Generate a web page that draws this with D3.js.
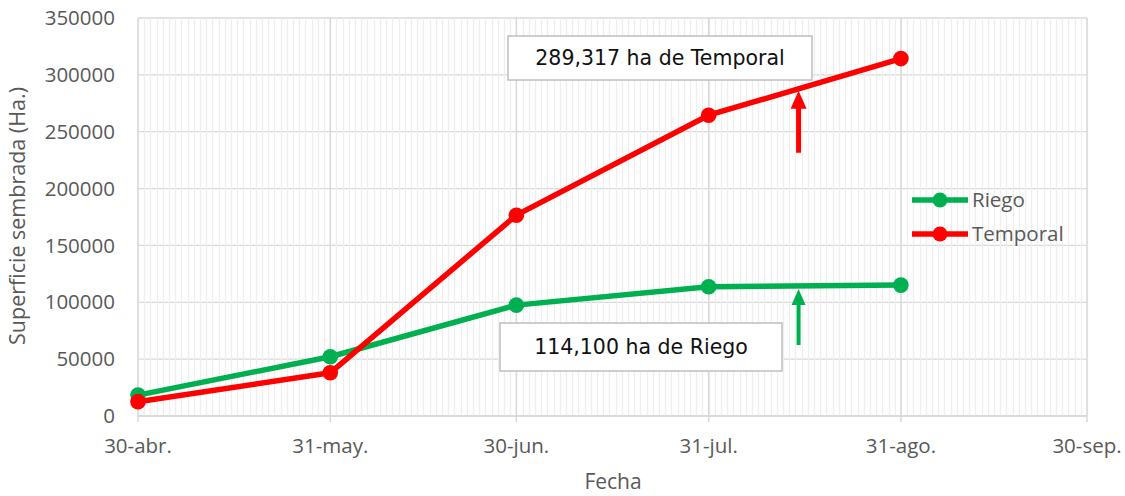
<!DOCTYPE html>
<html><head><meta charset="utf-8">
<script src="https://cdn.jsdelivr.net/npm/d3@7"></script>
<style>
html,body{margin:0;padding:0;background:#fff;}
svg{display:block;}
</style></head>
<body>
<svg id="chart" width="1125" height="496"></svg>
<script>
// ---- data ----
const dates = ["2021-04-30","2021-05-31","2021-06-30","2021-07-31","2021-08-31"];
const riego = [18400, 52100, 97500, 113600, 115100];
const temporal = [12600, 38000, 176600, 264500, 314300];
const seriesNames = ["Riego","Temporal"];
const tickDates = ["2021-04-30","2021-05-31","2021-06-30","2021-07-31","2021-08-31","2021-09-30"];
const tickLabels = ["30-abr.","31-may.","30-jun.","31-jul.","31-ago.","30-sep."];
const yTicks = [0,50000,100000,150000,200000,250000,300000,350000];
const annotTexts = ["289,317 ha de Temporal","114,100 ha de Riego"];
const arrowDate = "2021-08-14T12:00:00Z";
const arrowTemporal = [231500, 286000];  // tail, tip
const arrowRiego = [62400, 111700];

const parse = s => new Date(s.length>10 ? s : s+"T00:00:00Z");
const colors = {Riego:"#00b050", Temporal:"#ff0000"};

const svg = d3.select("#chart");
const L=138, R=1087, T=18, B=416;
const x = d3.scaleUtc().domain([parse(tickDates[0]), parse(tickDates[tickDates.length-1])]).range([L,R]);
const y = d3.scaleLinear().domain([0,350000]).range([B,T]);

const font = "'Open Sans', 'Noto Sans', sans-serif";

// horizontal gridlines
svg.append("g").selectAll("line").data(yTicks).join("line")
  .attr("x1",L).attr("x2",R).attr("y1",d=>y(d)).attr("y2",d=>y(d))
  .attr("stroke","#d9d9d9").attr("stroke-width",1.3);

// minor daily gridlines
const days = d3.utcDay.range(x.domain()[0], d3.utcDay.offset(x.domain()[1],1));
svg.append("g").selectAll("line").data(days).join("line")
  .attr("x1",d=>Math.round(x(d))+0.5).attr("x2",d=>Math.round(x(d))+0.5)
  .attr("y1",T).attr("y2",B)
  .attr("stroke","#eeeeee").attr("stroke-width",1.3);

// major vertical gridlines
svg.append("g").selectAll("line").data(tickDates.map(parse)).join("line")
  .attr("x1",d=>x(d)).attr("x2",d=>x(d)).attr("y1",T).attr("y2",B+6)
  .attr("stroke","#d9d9d9").attr("stroke-width",1.5);

// bottom axis line
svg.append("line").attr("x1",L).attr("x2",R).attr("y1",B).attr("y2",B)
  .attr("stroke","#d9d9d9").attr("stroke-width",1.5);

// y tick labels
svg.append("g").selectAll("text").data(yTicks).join("text")
  .attr("x",115).attr("y",d=>y(d)).attr("dy","0.35em")
  .attr("text-anchor","end").attr("font-family",font).attr("font-size",20.5)
  .attr("fill","#595959").text(d=>d);

// x tick labels
svg.append("g").selectAll("text").data(tickDates).join("text")
  .attr("x",d=>x(parse(d))).attr("y",453)
  .attr("text-anchor","middle").attr("font-family",font).attr("font-size",20.5)
  .attr("fill","#595959").text((d,i)=>tickLabels[i]);

// axis titles
svg.append("text").attr("x",613).attr("y",482).attr("dy","0.35em").attr("text-anchor","middle")
  .attr("font-family",font).attr("font-size",21).attr("fill","#595959").text("Fecha");
svg.append("text").attr("transform","translate(25,216) rotate(-90)").attr("text-anchor","middle")
  .attr("font-family",font).attr("font-size",21.5).attr("fill","#595959").text("Superficie sembrada (Ha.)");

// series
const line = d3.line().x(d=>x(d.date)).y(d=>y(d.v));
const seriesData = [riego, temporal].map((vals,i)=>({
  name: seriesNames[i],
  pts: vals.map((v,j)=>({date: parse(dates[j]), v}))
}));
seriesData.forEach(s=>{
  svg.append("path").datum(s.pts).attr("d",line).attr("fill","none")
    .attr("stroke",colors[s.name]).attr("stroke-width",5.5).attr("stroke-linejoin","round");
  svg.append("g").selectAll("circle").data(s.pts).join("circle")
    .attr("cx",d=>x(d.date)).attr("cy",d=>y(d.v)).attr("r",7.8).attr("fill",colors[s.name]);
});

// legend
seriesNames.forEach((n,i)=>{
  const ly = 200 + i*34;
  svg.append("line").attr("x1",912).attr("x2",968).attr("y1",ly).attr("y2",ly)
    .attr("stroke",colors[n]).attr("stroke-width",5.5);
  svg.append("circle").attr("cx",940).attr("cy",ly).attr("r",7.5).attr("fill",colors[n]);
  svg.append("text").attr("x",972).attr("y",ly).attr("dy","0.35em")
    .attr("font-family",font).attr("font-size",20.5).attr("fill","#595959").text(n);
});

// arrows
function arrow(vals, color, sw, hw, hl){
  const ax = x(parse(arrowDate));
  const y0 = y(vals[0]), y1 = y(vals[1]);
  svg.append("line").attr("x1",ax).attr("x2",ax).attr("y1",y0).attr("y2",y1+hl-1)
    .attr("stroke",color).attr("stroke-width",sw);
  svg.append("path").attr("d",`M${ax},${y1} L${ax-hw/2},${y1+hl} L${ax+hw/2},${y1+hl} Z`).attr("fill",color);
}
arrow(arrowTemporal, "#ff0000", 5, 16, 18);
arrow(arrowRiego, "#00b050", 4, 14, 16);

// annotation boxes
const afont = "'DejaVu Sans', sans-serif";
const boxes = [{x:508,y:36,w:304,h:44},{x:500,y:323,w:282,h:48}];
boxes.forEach((b,i)=>{
  svg.append("rect").attr("x",b.x).attr("y",b.y).attr("width",b.w).attr("height",b.h)
    .attr("fill","#fff").attr("stroke","#bfbfbf").attr("stroke-width",1.5);
  svg.append("text").attr("x",b.x+b.w/2).attr("y",b.y+b.h/2).attr("dy","0.36em")
    .attr("text-anchor","middle").attr("font-family",afont).attr("font-size",20.5)
    .attr("fill","#111").text(annotTexts[i]);
});
</script>
</body></html>
